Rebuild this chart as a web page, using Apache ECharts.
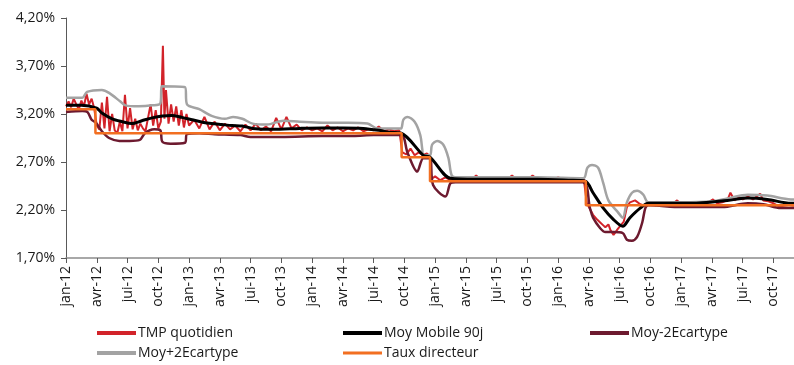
<!DOCTYPE html>
<html><head><meta charset="utf-8">
<script src="https://cdn.jsdelivr.net/npm/echarts/dist/echarts.min.js"></script>
<style>html,body{margin:0;padding:0;background:#fff}#c{width:794px;height:365px}</style>
</head><body><div id="c"></div>
<script>
// x positions are in months since jan-12
const tickLabels = ['jan-12','avr-12','jui-12','oct-12','jan-13','avr-13','jui-13','oct-13',
  'jan-14','avr-14','jui-14','oct-14','jan-15','avr-15','jui-15','oct-15',
  'jan-16','avr-16','jui-16','oct-16','jan-17','avr-17','jui-17','oct-17'];

const seriesNames = ['TMP quotidien','Moy Mobile 90j','Moy-2Ecartype','Moy+2Ecartype','Taux directeur'];

// Taux directeur (changes)
const rateM = [0, 2.87, 32.73, 35.5, 50.7, 71];
const rateV = [3.25, 3.00, 2.75, 2.50, 2.25, 2.25];

// TMP quotidien
const tmpM = [0,0.25,0.5,0.75,1,1.25,1.5,1.75,2,2.25,2.5,2.75,3,3.25,3.5,3.75,4,4.25,4.5,4.75,5,5.25,5.5,5.75,6,6.25,6.5,6.75,7,7.25,7.5,7.75,8,8.25,8.5,8.75,9,9.25,9.45,9.6,9.75,10,10.25,10.5,10.75,11,11.25,11.5,11.75,12,
  12.5,13,13.5,14,14.5,15,15.5,16,16.5,17,17.5,18,18.5,19,19.5,20,20.5,21,21.5,22,22.5,23,23.5,24,24.5,25,25.5,26,26.5,27,27.5,28,28.5,29,29.5,30,30.5,31,31.5,32,32.5,
  32.8,33.2,33.6,34,34.4,34.8,35.2,35.5,
  35.6,36,36.5,37,37.5,38,38.5,39,39.5,40,40.5,41,41.5,42,42.5,43,43.5,44,44.5,45,45.5,46,46.5,47,47.5,48,48.5,49,49.5,50,50.5,
  50.8,51.1,51.4,51.8,52.1,52.4,52.6,52.9,53.1,53.4,53.8,54.1,54.4,54.7,55,55.5,56,56.3,57,57.5,58,58.5,59,59.6,60,60.5,61,61.5,62,62.5,63.1,63.5,64,64.5,64.8,65.2,65.6,66,66.5,67,67.7,68,68.5,69,69.5,70,70.5,71];
const tmpV = [3.28,3.33,3.27,3.36,3.30,3.25,3.34,3.28,3.41,3.30,3.36,3.26,3.08,3.04,3.32,3.05,3.38,3.02,3.20,3.03,3.00,3.12,3.02,3.40,3.05,3.26,3.04,3.15,3.03,3.10,3.05,3.02,3.16,3.30,3.08,3.24,3.05,3.12,3.91,3.15,3.45,3.10,3.30,3.12,3.28,3.08,3.24,3.06,3.20,3.08,
  3.14,3.05,3.17,3.04,3.12,3.03,3.10,3.04,3.08,3.02,3.09,3.03,3.10,3.03,3.07,3.02,3.16,3.04,3.17,3.05,3.09,3.03,3.06,3.03,3.05,3.02,3.08,3.03,3.06,3.02,3.05,3.03,3.06,3.02,3.04,3.03,3.07,3.02,3.04,3.02,3.03,
  2.80,2.78,2.84,2.77,2.80,2.77,2.79,2.76,
  2.52,2.55,2.51,2.54,2.51,2.53,2.51,2.52,2.51,2.56,2.51,2.52,2.51,2.53,2.51,2.52,2.56,2.51,2.53,2.51,2.56,2.52,2.51,2.53,2.52,2.54,2.52,2.53,2.52,2.53,2.52,
  2.27,2.21,2.15,2.10,2.07,2.04,2.02,2.05,1.99,1.94,2.00,2.04,2.08,2.23,2.28,2.30,2.26,2.25,2.26,2.25,2.27,2.26,2.25,2.30,2.26,2.25,2.27,2.26,2.25,2.27,2.31,2.27,2.28,2.30,2.38,2.30,2.33,2.31,2.34,2.31,2.37,2.30,2.29,2.27,2.24,2.23,2.22,2.23];

// Moy Mobile 90j
const maM = [0,1.5,3.0,3.5,4.5,5.5,6.4,7.4,8.4,9.4,10.3,11.3,12.3,13.3,14.2,15.2,16.2,17.2,18.2,20.2,22.8,25,27,29,30.5,31.5,32.7,34.85,35.5,37.5,40,43,46,49,50.65,51.4,52.4,53.4,54.3,55.0,56.0,56.8,58,61,64.5,66.5,68.4,70.7,71];
const maV = [3.29,3.29,3.26,3.21,3.15,3.12,3.10,3.13,3.16,3.18,3.185,3.165,3.14,3.115,3.10,3.09,3.08,3.075,3.05,3.04,3.05,3.055,3.055,3.05,3.03,3.01,3.00,2.77,2.75,2.53,2.52,2.52,2.52,2.51,2.50,2.38,2.22,2.10,2.03,2.12,2.22,2.27,2.27,2.27,2.30,2.325,2.31,2.27,2.27];

// Moy-2Ecartype
const lowM = [0,1.6,2.1,2.5,2.9,3.5,4.2,5.2,6.2,7.2,7.7,8.6,9.2,9.4,10.2,11.6,11.8,13,14.5,17,18,21,25,28,30,32.7,33.3,34.25,34.85,35.5,35.8,37.0,37.5,38,44,50.4,51.1,51.4,52.1,52.6,53.4,54.3,54.7,55.2,55.7,56.2,56.5,56.8,60,64,66.5,68,69.7,71];
const lowV = [3.22,3.23,3.22,3.14,3.11,3.02,2.95,2.92,2.92,2.93,3.00,3.04,3.03,2.91,2.89,2.90,2.99,3.00,2.99,2.98,2.96,2.96,2.97,2.97,2.98,2.98,2.80,2.60,2.74,2.74,2.46,2.34,2.48,2.49,2.49,2.49,2.22,2.12,2.01,1.97,1.97,1.96,1.89,1.88,1.92,2.07,2.22,2.25,2.23,2.23,2.27,2.26,2.22,2.22];

// Moy+2Ecartype
const highM = [0,1.6,2.05,3.5,4.2,5.3,5.8,7.1,8.4,9.2,9.35,11.6,11.8,13,14.2,15.5,16.3,17.2,18.2,19.6,21.2,22.8,25,27.5,29.4,30.4,32.5,32.7,32.9,33.3,34.0,34.55,34.75,34.85,35.5,35.7,36.2,36.8,37.3,37.6,38,42,46,50.45,50.85,51.3,51.9,52.4,52.9,53.8,54.3,54.7,55.2,55.7,56.3,56.8,60,63,64.5,66.5,68.4,70.7,71];
const highV = [3.37,3.37,3.43,3.45,3.42,3.33,3.29,3.28,3.29,3.31,3.49,3.48,3.30,3.25,3.18,3.15,3.17,3.15,3.10,3.09,3.13,3.12,3.11,3.11,3.10,3.05,3.05,3.05,3.14,3.17,3.12,2.98,2.83,2.77,2.77,2.88,2.92,2.88,2.74,2.565,2.54,2.54,2.54,2.53,2.64,2.67,2.64,2.48,2.30,2.18,2.12,2.28,2.38,2.40,2.36,2.28,2.28,2.29,2.32,2.36,2.35,2.31,2.31];

const BASE = 1.7; // bottom of the value axis (ticks every 0.50 from 1.70)
function pairs(ms, vs){ return ms.map((m,i)=>[m, Math.round((vs[i]-BASE)*10000)/10000]); }

const FONT = 'Open Sans';
const chart = echarts.init(document.getElementById('c'), null, {renderer:'canvas'});

function legendAt(name, left, top, color, h){
  return {show:true, data:[name], left:left, top:top, orient:'horizontal', padding:0,
    icon:'rect', itemWidth:39, itemHeight:h, itemGap:0, selectedMode:false,
    textStyle:{fontFamily:FONT, fontSize:14, color:'#1a1a1a', padding:[0,0,0,-3]},
    itemStyle:{color:color}};
}

chart.setOption({
  animation:false,
  backgroundColor:'#fff',
  grid:{left:66, right:0, top:18, bottom:107, containLabel:false, outerBoundsMode:'none'},
  legend:[
    legendAt(seriesNames[0], 97, 326, '#d2232a', 4),
    legendAt(seriesNames[1], 343, 326, '#000000', 4),
    legendAt(seriesNames[2], 590, 326, '#6d1a2f', 4),
    legendAt(seriesNames[3], 97, 346, '#a3a3a3', 4),
    legendAt(seriesNames[4], 343, 346, '#f26f21', 3)
  ],
  xAxis:{type:'value', min:0, max:71, interval:3,
    axisLine:{show:true, lineStyle:{color:'#8c8c8c', width:1.5}},
    axisTick:{show:true, length:5, lineStyle:{color:'#595959'}},
    splitLine:{show:false},
    axisLabel:{rotate:90, margin:8, fontFamily:FONT, fontSize:14, color:'#1a1a1a',
      formatter:function(v){ const i = Math.round(v/3); return (Math.abs(v - i*3) < 1e-6 && tickLabels[i]) ? tickLabels[i] : ''; }}
  },
  yAxis:{type:'value', min:0, max:2.5, interval:0.5,
    axisLine:{show:true, lineStyle:{color:'#595959', width:1}},
    axisTick:{show:true, length:5, lineStyle:{color:'#595959'}},
    splitLine:{show:false},
    axisLabel:{margin:11, fontFamily:FONT, fontSize:14, color:'#1a1a1a',
      formatter:function(v){ return (v+BASE).toFixed(2).replace('.', ',') + '%'; }}
  },
  series:[
    {name:seriesNames[0], type:'line', data:pairs(tmpM, tmpV), showSymbol:false, symbol:'none',
      lineStyle:{color:'#d2232a', width:2}, itemStyle:{color:'#d2232a'}, z:2},
    {name:seriesNames[2], type:'line', data:pairs(lowM, lowV), showSymbol:false, symbol:'none', smooth:0.3,
      lineStyle:{color:'#6d1a2f', width:2.5}, itemStyle:{color:'#6d1a2f'}, z:3},
    {name:seriesNames[3], type:'line', data:pairs(highM, highV), showSymbol:false, symbol:'none', smooth:0.3,
      lineStyle:{color:'#a3a3a3', width:2.5}, itemStyle:{color:'#a3a3a3'}, z:4},
    {name:seriesNames[1], type:'line', data:pairs(maM, maV), showSymbol:false, symbol:'none', smooth:0.3,
      lineStyle:{color:'#000000', width:3}, itemStyle:{color:'#000000'}, z:5},
    {name:seriesNames[4], type:'line', data:pairs(rateM, rateV), showSymbol:false, symbol:'none', step:'end',
      lineStyle:{color:'#f26f21', width:2.5}, itemStyle:{color:'#f26f21'}, z:6}
  ]
});
</script></body></html>
